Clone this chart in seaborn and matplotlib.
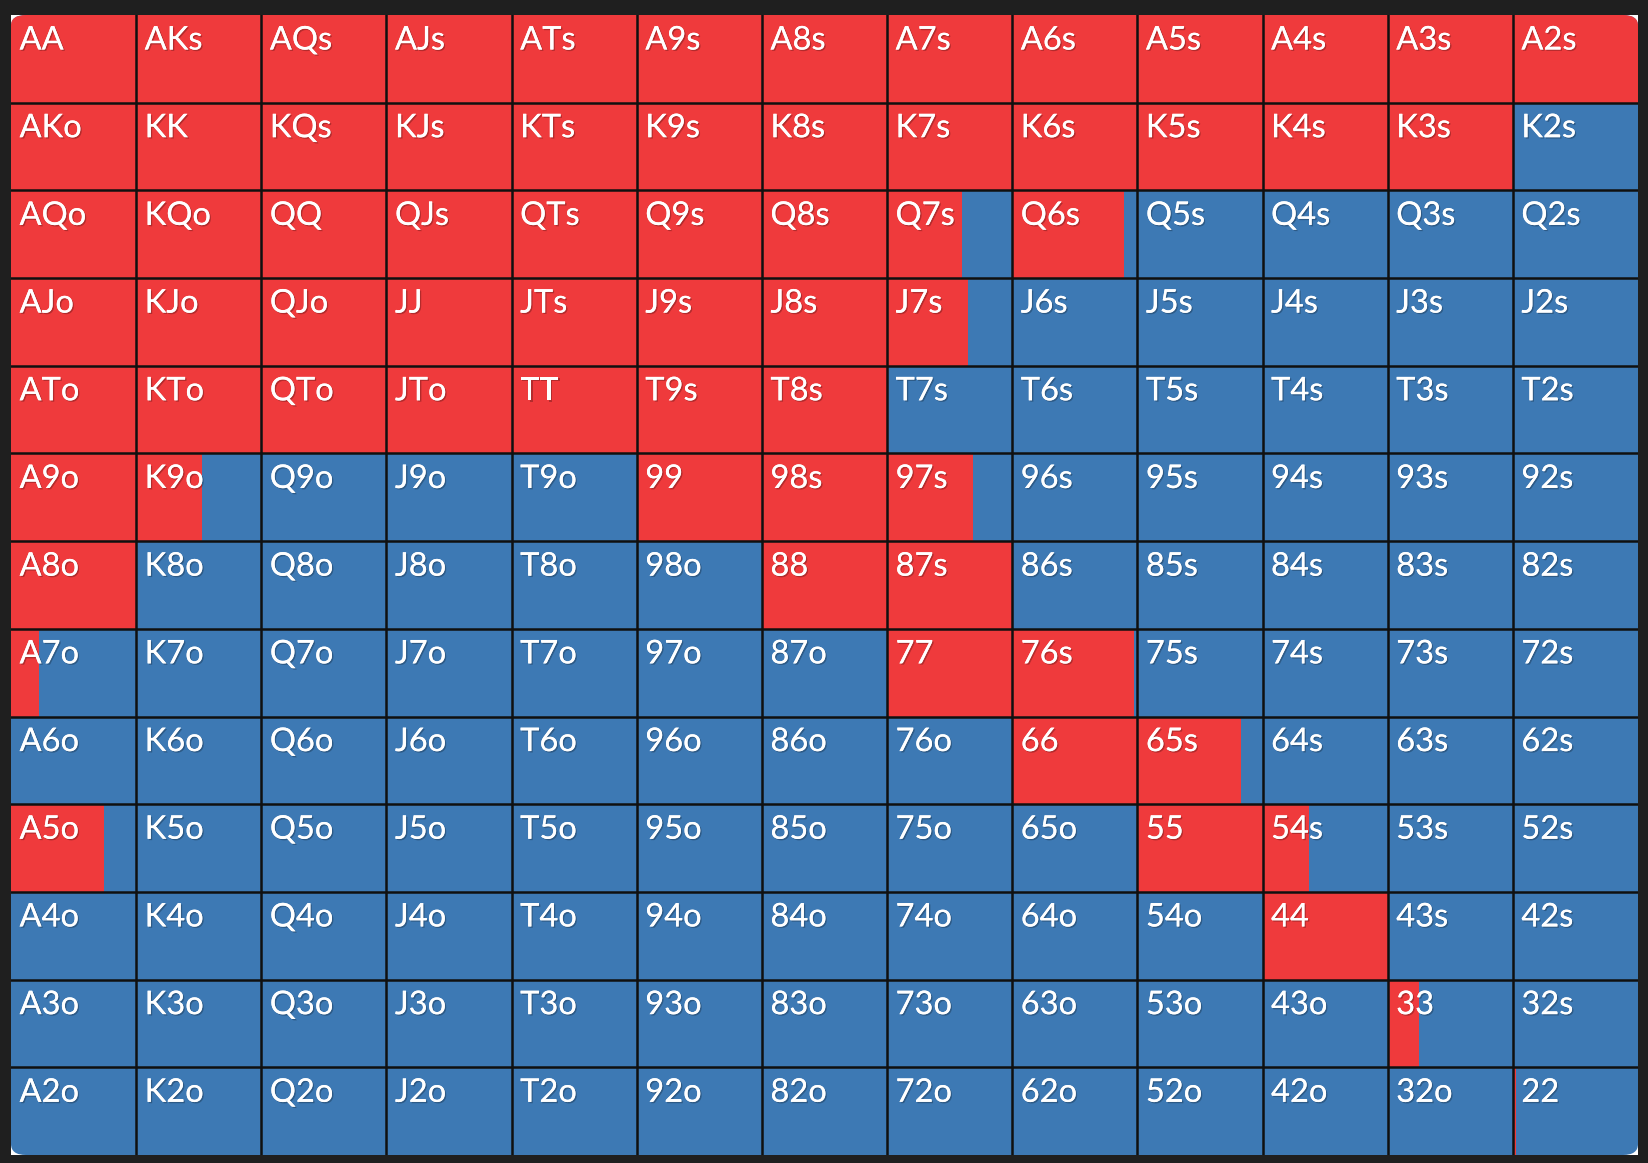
import numpy as np
import pandas as pd
import seaborn as sns
import matplotlib
matplotlib.use("Agg")
import matplotlib.pyplot as plt
from matplotlib.colors import ListedColormap
from matplotlib.patches import FancyBboxPatch
import matplotlib.patheffects as pe

ranks = ["A", "K", "Q", "J", "T", "9", "8", "7", "6", "5", "4", "3", "2"]

# red (raise) fraction per cell, row = first rank, col = second rank
row_A = [1, 1, 1, 1, 1, 1, 1, 1, 1, 1, 1, 1, 1]
row_K = [1, 1, 1, 1, 1, 1, 1, 1, 1, 1, 1, 1, 0]
row_Q = [1, 1, 1, 1, 1, 1, 1, 0.60, 0.89, 0, 0, 0, 0]
row_J = [1, 1, 1, 1, 1, 1, 1, 0.65, 0, 0, 0, 0, 0]
row_T = [1, 1, 1, 1, 1, 1, 1, 0, 0, 0, 0, 0, 0]
row_9 = [1, 0.53, 0, 0, 0, 1, 1, 0.69, 0, 0, 0, 0, 0]
row_8 = [1, 0, 0, 0, 0, 0, 1, 1, 0, 0, 0, 0, 0]
row_7 = [0.22, 0, 0, 0, 0, 0, 0, 1, 0.97, 0, 0, 0, 0]
row_6 = [0, 0, 0, 0, 0, 0, 0, 0, 1, 0.83, 0, 0, 0]
row_5 = [0.74, 0, 0, 0, 0, 0, 0, 0, 0, 1, 0.37, 0, 0]
row_4 = [0, 0, 0, 0, 0, 0, 0, 0, 0, 0, 1, 0, 0]
row_3 = [0, 0, 0, 0, 0, 0, 0, 0, 0, 0, 0, 0.25, 0]
row_2 = [0, 0, 0, 0, 0, 0, 0, 0, 0, 0, 0, 0, 0.025]

rows = [row_A, row_K, row_Q, row_J, row_T, row_9, row_8, row_7,
        row_6, row_5, row_4, row_3, row_2]

RED = "#ef3a3c"
BLUE = "#3d79b4"
BG = "#1f1f1f"

def hand(i, j):
    if i == j:
        return ranks[i] + ranks[j]
    if j > i:
        return ranks[i] + ranks[j] + "s"
    return ranks[j] + ranks[i] + "o"

base = pd.DataFrame(np.zeros((13, 13)), index=ranks, columns=ranks)

W, H = 1649, 1163
fig = plt.figure(figsize=(W / 100, H / 100), dpi=100, facecolor=BG)
ax = fig.add_axes([11 / W, 8 / H, 1627 / W, 1140 / H])

sns.heatmap(base, ax=ax, cmap=ListedColormap([BLUE]), cbar=False,
            linewidths=0, xticklabels=False, yticklabels=False)

# red fractions drawn as horizontal bars per row
for i, vals in enumerate(rows):
    ax.barh([i + 0.5] * 13, vals, left=np.arange(13), height=1.0,
            color=RED, edgecolor="none", linewidth=0, zorder=2)

for k in range(1, 13):
    ax.axhline(k, color="#101010", lw=1.8, zorder=3)
    ax.axvline(k, color="#101010", lw=1.8, zorder=3)

# rounded outer frame corners
frame = FancyBboxPatch((0, 0), 13, 13, boxstyle="round,pad=0,rounding_size=0.12",
                       transform=ax.transData, facecolor="none", edgecolor="none")
ax.add_patch(frame)
for art in ax.collections + ax.patches:
    if art is not frame:
        art.set_clip_path(frame)

shadow = [pe.withSimplePatchShadow(offset=(1.0, -1.0), shadow_rgbFace="black", alpha=0.25), pe.Normal()]
for i in range(13):
    for j in range(13):
        ax.text(j + 0.068, i + 0.12, hand(i, j), color="white",
                fontsize=23.5, family=["Lato", "DejaVu Sans"],
                ha="left", va="top", zorder=4, path_effects=shadow)

ax.set_xlim(0, 13)
ax.set_ylim(13, 0)
for s in ax.spines.values():
    s.set_visible(False)

fig.savefig("out.png", dpi=100, facecolor=BG)
